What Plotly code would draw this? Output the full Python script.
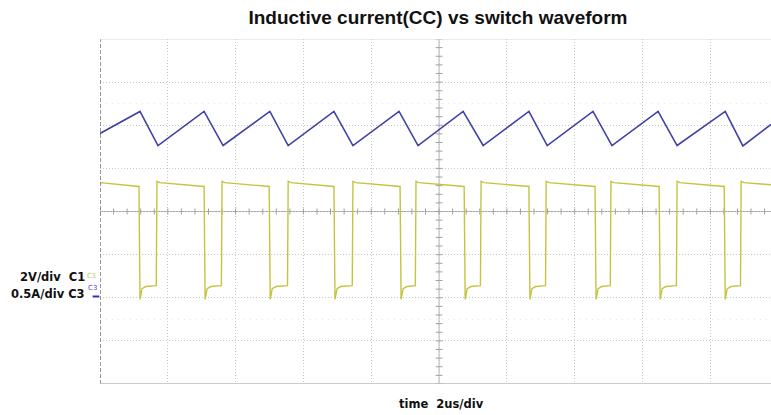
import plotly.graph_objects as go

# ---- data (time in us, amplitude in divisions) ----
# C3: inductor current, triangle vertices
current_t = [0.00, 1.18, 1.71, 3.07, 3.63, 5.01, 5.55, 6.90, 7.46, 8.82, 9.38,
             10.71, 11.30, 12.65, 13.19, 14.54, 15.10, 16.46, 17.02, 18.44, 18.96, 19.79]
current_v = [1.81, 2.32, 1.53, 2.32, 1.53, 2.32, 1.53, 2.32, 1.53, 2.32, 1.53,
             2.32, 1.53, 2.32, 1.53, 2.32, 1.53, 2.32, 1.53, 2.32, 1.52, 2.02]

# C1: switch node, fall / rise instants
switch_fall_t = [1.15, 3.07, 4.99, 6.90, 8.85, 10.74, 12.65, 14.60, 16.49, 18.41]
switch_rise_t = [1.68, 3.60, 5.55, 7.46, 9.32, 11.24, 13.16, 15.07, 17.02, 18.91]
switch_high_start = 0.70   # level just after rising edge
switch_high_end = 0.58     # level just before falling edge
switch_low_min = -2.04     # bottom of the low state
switch_low_knee = -1.79
switch_low_flat = -1.72
t_end = 19.79

# build switch polyline from the read edges/levels
sw_t, sw_v = [0.0], [0.67]
for tf, tr in zip(switch_fall_t, switch_rise_t):
    sw_t += [tf, tf + 0.03, tf + 0.09, tf + 0.2, tr - 0.02, tr, tr + 0.08]
    sw_v += [switch_high_end, switch_low_min, switch_low_knee, -1.74, switch_low_flat,
             switch_high_start, 0.67]
sw_t.append(t_end)
sw_v.append(0.62)

fig = go.Figure()

# faint dotted sub-lines at +-2.5 div
for yv in (2.5, -2.5):
    fig.add_shape(type="line", x0=0, x1=t_end, y0=yv, y1=yv, xref="x", yref="y",
                  line=dict(color="#e2e2e2", width=1, dash="1px,5px"), layer="below")

# centre cross lines with minor ticks
fig.add_shape(type="line", x0=0, x1=t_end, y0=0, y1=0, line=dict(color="#a8a8a8", width=1.2), layer="below")
fig.add_shape(type="line", x0=10, x1=10, y0=-4, y1=4, line=dict(color="#b4b4b4", width=1), layer="below")
tx, ty = [], []
k = 0
while k * 0.4 <= t_end:
    x = k * 0.4
    tx += [x, x, None]
    ty += [-0.07, 0.07, None]
    k += 1
k = 0
while -4 + k * 0.2 <= 4.0001:
    y = -4 + k * 0.2
    tx += [9.9, 10.1, None]
    ty += [y, y, None]
    k += 1
fig.add_trace(go.Scatter(x=tx, y=ty, mode="lines", line=dict(color="#a0a0a0", width=1),
                         hoverinfo="skip", showlegend=False))

fig.add_trace(go.Scatter(x=current_t, y=current_v, mode="lines",
                         line=dict(color="#4242a6", width=1.6), name="C3", showlegend=False))
fig.add_trace(go.Scatter(x=sw_t, y=sw_v, mode="lines",
                         line=dict(color="#c4c440", width=1.4), name="C1", showlegend=False))

# left border and bottom border
fig.add_shape(type="line", x0=0, x1=0, y0=-4, y1=4, line=dict(color="#555555", width=1.2, dash="4px,2px"))
fig.add_shape(type="line", x0=0, x1=t_end, y0=-4, y1=-4, line=dict(color="#b8b8b8", width=1.5))
fig.add_shape(type="line", x0=0, x1=t_end, y0=4, y1=4, line=dict(color="#d8d8d8", width=1))

# trigger marker
fig.add_trace(go.Scatter(x=[10], y=[-4.02], mode="markers",
                         marker=dict(symbol="triangle-up", size=6, color="#3a3ab0"),
                         hoverinfo="skip", showlegend=False, cliponaxis=False))

fig.update_layout(
    width=771, height=415,
    margin=dict(l=100, r=0, t=39, b=31),
    paper_bgcolor="white", plot_bgcolor="white",
    title=dict(text="<b>Inductive current(CC) vs switch waveform</b>", x=0.568, xanchor="center",
               y=0.957, yanchor="middle",
               font=dict(family="Liberation Sans, Arial, sans-serif", size=19, color="#111111")),
    xaxis=dict(range=[0, t_end], dtick=2, tick0=0, showgrid=True, gridcolor="#c8c8c8",
               griddash="1px,2px", gridwidth=1, zeroline=False, showticklabels=False, ticks="",
               showline=False, fixedrange=True),
    yaxis=dict(range=[-4, 4], dtick=1, tick0=0, showgrid=True, gridcolor="#c8c8c8",
               griddash="1px,2px", gridwidth=1, zeroline=False, showticklabels=False, ticks="",
               showline=False, fixedrange=True),
    font=dict(family="Liberation Sans, Arial, sans-serif"),
)

lab_font = dict(family="DejaVu Sans, Verdana, sans-serif", size=11.5, color="#111111")
fig.add_annotation(text="<b>2V/div  C1</b>", xref="paper", yref="paper", x=-0.019, y=(384 - 277) / 345,
                   xanchor="right", yanchor="middle", showarrow=False, font=lab_font)
fig.add_annotation(text="<b>0.5A/div C3</b>", xref="paper", yref="paper", x=-0.019, y=(384 - 294) / 345,
                   xanchor="right", yanchor="middle", showarrow=False, font=lab_font)
fig.add_annotation(text="C1", xref="paper", yref="paper", x=-0.003, y=(384 - 276) / 345,
                   xanchor="right", yanchor="middle", showarrow=False,
                   font=dict(family="DejaVu Sans", size=7, color="#c8c860"))
fig.add_annotation(text="C3", xref="paper", yref="paper", x=-0.001, y=(384 - 288) / 345,
                   xanchor="right", yanchor="middle", showarrow=False,
                   font=dict(family="DejaVu Sans", size=7, color="#5050c0"))
fig.add_shape(type="line", xref="paper", yref="paper", x0=-0.011, x1=-0.001,
              y0=(384 - 296.5) / 345, y1=(384 - 296.5) / 345, line=dict(color="#3030c0", width=2))
fig.add_annotation(text="<b>time  2us/div</b>", xref="paper", yref="paper", x=(441 - 100) / 671,
                   y=-20 / 345, xanchor="center", yanchor="middle", showarrow=False, font=lab_font)

fig.write_html("out.html", config={"displayModeBar": False},
               post_script="document.body.style.margin='0';document.body.style.overflow='hidden';")
